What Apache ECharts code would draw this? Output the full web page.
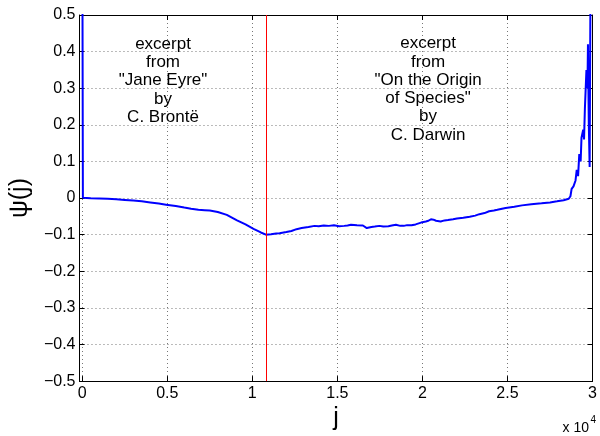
<!DOCTYPE html>
<html>
<head>
<meta charset="utf-8">
<script src="https://cdn.jsdelivr.net/npm/echarts@6/dist/echarts.min.js"></script>
<style>
html,body{margin:0;padding:0;background:#fff;}
#chart{width:600px;height:436px;}
</style>
</head>
<body>
<div id="chart"></div>
<script>
// position j along the text
const jValues = [0, 40, 500, 1000, 1500, 2000, 2500, 3000, 3500, 4000, 4500, 4930, 5500, 6000, 6400, 6830, 7200, 7500, 7970, 8500, 9100, 9600, 10070, 10500, 10800, 11100, 11400, 11600, 12000, 12300, 12600, 12900, 13300, 13660, 13900, 14200, 14500, 14800, 15100, 15400, 15600, 15800, 16150, 16500, 16600, 16730, 17000, 17200, 17470, 17700, 18000, 18200, 18440, 18700, 18900, 19100, 19360, 19600, 19920, 20200, 20350, 20500, 20650, 20800, 21070, 21300, 21500, 21800, 22030, 22400, 22780, 23100, 23350, 23650, 23920, 24200, 24400, 24890, 25400, 25850, 26400, 27000, 27500, 27910, 28300, 28600, 28700, 28770, 28880, 29000, 29070, 29150, 29220, 29300, 29350, 29450, 29500, 29550, 29640, 29700, 29730, 29780, 29830, 29880, 29950];
// psi(j) values
const psiValues = [0.9, 0.001, -0.0005, -0.001, -0.002, -0.003, -0.005, -0.007, -0.009, -0.012, -0.015, -0.018, -0.022, -0.026, -0.029, -0.032, -0.033, -0.034, -0.038, -0.046, -0.061, -0.072, -0.084, -0.094, -0.1, -0.099, -0.097, -0.096, -0.093, -0.09, -0.085, -0.082, -0.079, -0.076, -0.077, -0.075, -0.076, -0.0745, -0.077, -0.076, -0.075, -0.073, -0.0745, -0.075, -0.079, -0.082, -0.079, -0.078, -0.076, -0.078, -0.077, -0.075, -0.073, -0.076, -0.076, -0.074, -0.0745, -0.072, -0.067, -0.064, -0.062, -0.058, -0.059, -0.062, -0.064, -0.061, -0.06, -0.058, -0.056, -0.054, -0.051, -0.048, -0.044, -0.041, -0.036, -0.034, -0.032, -0.027, -0.024, -0.02, -0.017, -0.0145, -0.012, -0.009, -0.006, -0.002, 0.005, 0.025, 0.032, 0.048, 0.077, 0.06, 0.12, 0.1, 0.165, 0.187, 0.16, 0.245, 0.35, 0.3, 0.42, 0.2, 0.085, 0.6, 1.2];
const xTicks = [0, 5000, 10000, 15000, 20000, 25000, 30000];
const boundaryJ = 10810;
const annotations = [
  {j: 4750, psi: 0.321, text: 'excerpt\nfrom\n"Jane Eyre"\nby\nC. Brontë'},
  {j: 20330, psi: 0.297, text: 'excerpt\nfrom\n"On the Origin\nof Species"\nby\nC. Darwin'}
];

const FONT = '"Liberation Sans", Arial, Helvetica, sans-serif';
const chart = echarts.init(document.getElementById('chart'), null, {renderer: 'canvas'});
const yFmt = v => {
  if (Math.abs(v) < 1e-9) return '0';
  const s = Math.abs(v).toFixed(1);
  return v < 0 ? '\u2212' + s : s;
};
const dotted = {show: true, lineStyle: {color: '#777', width: 1, type: [1, 3]}};
const option = {
  animation: false,
  backgroundColor: '#fff',
  grid: {left: 71, right: 3, top: 15, bottom: 45, containLabel: false},
  xAxis: [{
    type: 'value', min: -160, max: 30000, position: 'bottom',
    axisLine: {show: true, onZero: false, lineStyle: {color: '#000', width: 1}},
    axisTick: {show: true, inside: true, length: 5, customValues: xTicks, lineStyle: {color: '#000'}},
    axisLabel: {show: true, customValues: xTicks, margin: 4, color: '#000', fontSize: 16, fontFamily: FONT,
      formatter: v => String(Math.round(v / 1000) / 10)},
    splitLine: dotted,
    name: 'j', nameLocation: 'middle', nameGap: 20,
    nameTextStyle: {fontSize: 25, fontFamily: FONT, color: '#000'}
  }, {
    type: 'value', min: -160, max: 30000, position: 'top',
    axisLine: {show: true, onZero: false, lineStyle: {color: '#000', width: 1}},
    axisTick: {show: true, inside: true, length: 5, customValues: xTicks, lineStyle: {color: '#000'}},
    axisLabel: {show: false}, splitLine: {show: false}
  }],
  yAxis: [{
    type: 'value', min: -0.5, max: 0.5, interval: 0.1, position: 'left',
    axisLine: {show: true, onZero: false, lineStyle: {color: '#000', width: 1}},
    axisTick: {show: true, inside: true, length: 5, lineStyle: {color: '#000'}},
    axisLabel: {show: true, margin: 4, color: '#000', fontSize: 16, fontFamily: FONT, formatter: yFmt},
    splitLine: dotted,
    name: 'ψ(j)', nameLocation: 'middle', nameGap: 44, nameRotate: 90,
    nameTextStyle: {fontSize: 25, fontFamily: FONT, color: '#000'}
  }, {
    type: 'value', min: -0.5, max: 0.5, interval: 0.1, position: 'right',
    axisLine: {show: true, onZero: false, lineStyle: {color: '#000', width: 1}},
    axisTick: {show: true, inside: true, length: 5, lineStyle: {color: '#000'}},
    axisLabel: {show: false}, splitLine: {show: false}
  }],
  graphic: [
    {type: 'text', right: 11, top: 421, style: {text: 'x 10', fontSize: 14, fontFamily: FONT, fill: '#000'}},
    {type: 'text', right: 4, top: 415, style: {text: '4', fontSize: 10, fontFamily: FONT, fill: '#000'}}
  ],
  series: [{
    type: 'line',
    xAxisIndex: 0, yAxisIndex: 0,
    data: jValues.map((j, i) => [j, psiValues[i]]),
    showSymbol: false, symbol: 'none',
    clip: true,
    lineStyle: {color: '#0000ff', width: 2},
    z: 3,
    markLine: {
      silent: true, symbol: 'none', animation: false,
      label: {show: false},
      lineStyle: {color: '#ff0000', width: 1, type: 'solid'},
      data: [{xAxis: boundaryJ}]
    },
    markPoint: {
      silent: true, symbol: 'rect', symbolSize: 0, animation: false,
      label: {show: true, position: 'inside', color: '#000', fontSize: 17, lineHeight: 18.3,
        fontFamily: FONT, align: 'center', verticalAlign: 'middle', formatter: p => p.data.text},
      data: annotations.map(a => ({coord: [a.j, a.psi], text: a.text}))
    }
  }]
};
chart.setOption(option);
</script>
</body>
</html>
